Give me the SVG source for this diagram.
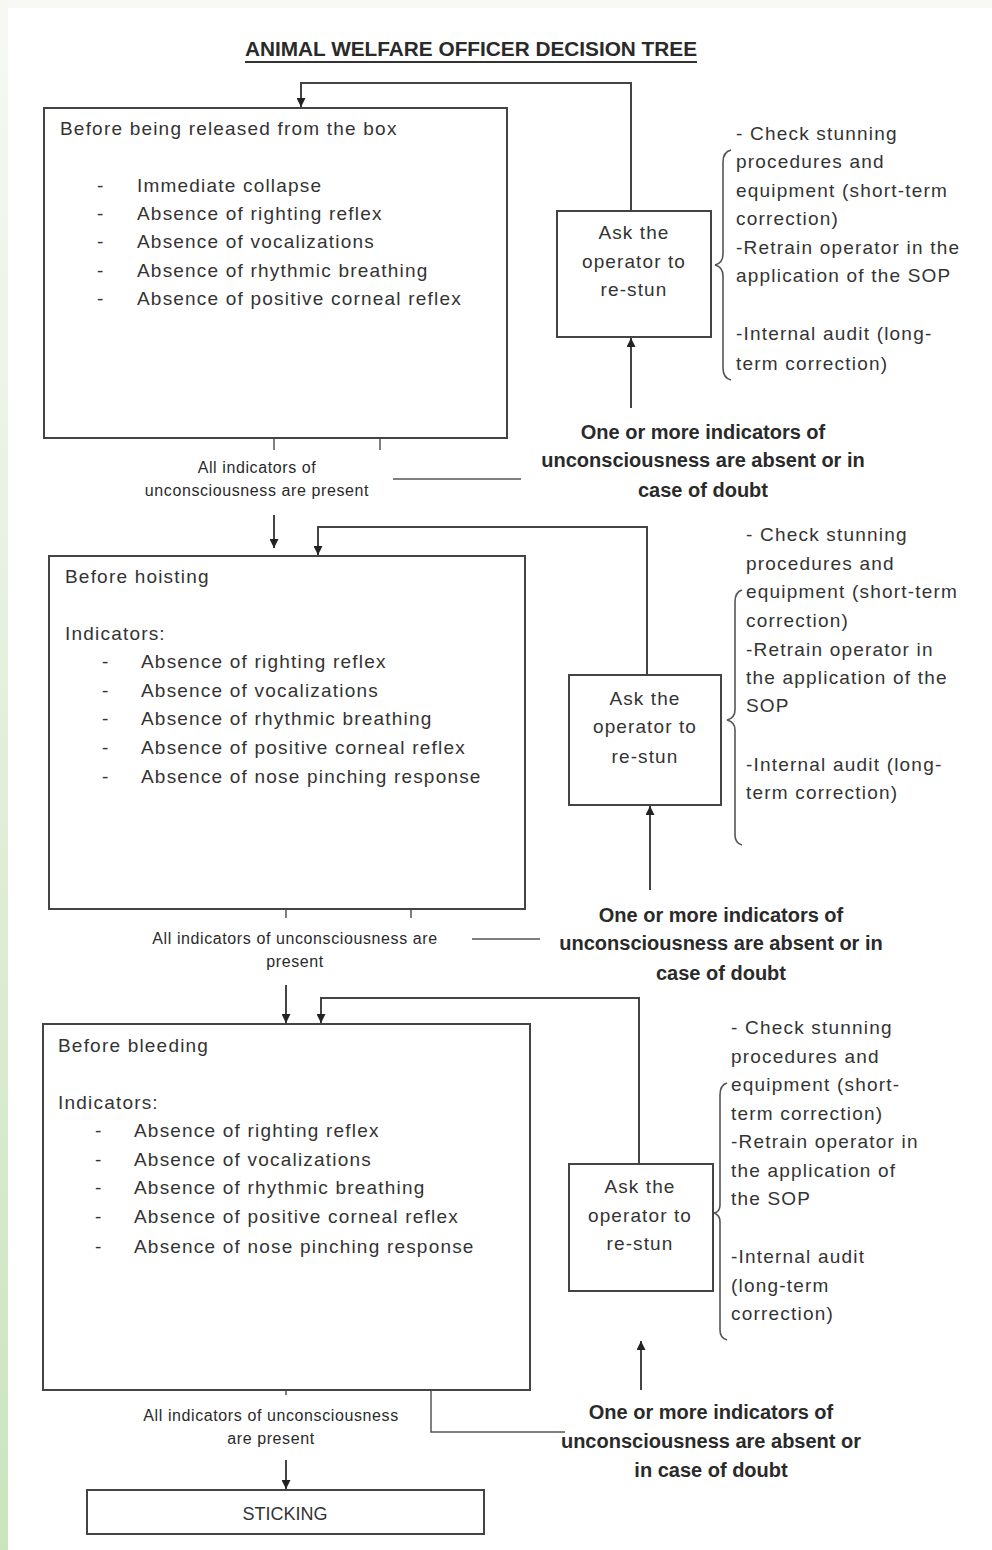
<svg xmlns="http://www.w3.org/2000/svg" width="992" height="1550" viewBox="0 0 992 1550">
<defs>
<linearGradient id="strip" x1="0" y1="0" x2="0" y2="1">
<stop offset="0" stop-color="#f7f8f4"/>
<stop offset="0.4" stop-color="#e6f0e0"/>
<stop offset="1" stop-color="#cbe4bd"/>
</linearGradient>
<marker id="ah" viewBox="0 0 10 10" refX="10" refY="5" markerWidth="9" markerHeight="9" markerUnits="userSpaceOnUse" orient="auto">
<path d="M0,0 L10,5 L0,10 z" fill="#222"/>
</marker>
<style>
.box{fill:#fff;stroke:#444;stroke-width:2}
.ln{fill:none;stroke:#444;stroke-width:2}
.thin{fill:none;stroke:#555;stroke-width:1.5}
.br{fill:none;stroke:#555;stroke-width:1.6}
text{font-family:"Liberation Sans",Arial,sans-serif;fill:#333}
.t{font-size:19px;letter-spacing:1.2px}
.c{font-size:19px;letter-spacing:1.1px;text-anchor:middle}
.b{font-size:20px;font-weight:bold;text-anchor:middle;fill:#2a2a2a}
.s{font-size:16px;letter-spacing:0.6px;text-anchor:middle;fill:#2a2a2a}
.k{font-size:18px;text-anchor:middle}
.title{font-size:20px;font-weight:bold;text-anchor:middle;fill:#2a2a2a}
</style>
</defs>
<rect x="0" y="0" width="992" height="1550" fill="#fff"/>
<rect x="0" y="0" width="992" height="8" fill="#f8f8f5"/>
<rect x="0" y="0" width="8" height="1550" fill="url(#strip)"/>

<g id="title">
<text class="title" x="471" y="56" textLength="452" lengthAdjust="spacingAndGlyphs">ANIMAL WELFARE OFFICER DECISION TREE</text>
<line x1="245" y1="62" x2="697" y2="62" stroke="#333" stroke-width="2"/>
</g>

<g id="connectors">
<polyline class="ln" points="631,211 631,83 301,83 301,107" marker-end="url(#ah)"/>
<line class="ln" x1="631" y1="408" x2="631" y2="338" marker-end="url(#ah)"/>
<line class="thin" x1="274" y1="438" x2="274" y2="450"/>
<line class="thin" x1="380" y1="426" x2="380" y2="450"/>
<line class="thin" x1="393" y1="479" x2="521" y2="479"/>
<line class="ln" x1="274" y1="515" x2="274" y2="548" marker-end="url(#ah)"/>
<polyline class="ln" points="647,675 647,527 318,527 318,555" marker-end="url(#ah)"/>
<line class="ln" x1="650" y1="890" x2="650" y2="806" marker-end="url(#ah)"/>
<line class="thin" x1="286" y1="909" x2="286" y2="918"/>
<line class="thin" x1="411" y1="909" x2="411" y2="918"/>
<line class="thin" x1="472" y1="939" x2="540" y2="939"/>
<line class="ln" x1="286" y1="985" x2="286" y2="1023" marker-end="url(#ah)"/>
<polyline class="ln" points="639,1164 639,998 321,998 321,1023" marker-end="url(#ah)"/>
<line class="ln" x1="641" y1="1390" x2="641" y2="1341" marker-end="url(#ah)"/>
<line class="thin" x1="286" y1="1390" x2="286" y2="1395"/>
<polyline class="thin" points="431,1390 431,1432 565,1432"/>
<line class="ln" x1="286" y1="1460" x2="286" y2="1489" marker-end="url(#ah)"/>
</g>

<g id="box1">
<rect class="box" x="44" y="108" width="463" height="330"/>
<text class="t" x="60" y="135">Before being released from the box</text>
<text class="t" x="97" y="192">-</text><text class="t" x="137" y="192">Immediate collapse</text>
<text class="t" x="97" y="220">-</text><text class="t" x="137" y="220">Absence of righting reflex</text>
<text class="t" x="97" y="248">-</text><text class="t" x="137" y="248">Absence of vocalizations</text>
<text class="t" x="97" y="277">-</text><text class="t" x="137" y="277">Absence of rhythmic breathing</text>
<text class="t" x="97" y="305">-</text><text class="t" x="137" y="305">Absence of positive corneal reflex</text>
</g>

<g id="ask1">
<rect class="box" x="557" y="211" width="154" height="126"/>
<text class="c" x="634" y="239">Ask the</text>
<text class="c" x="634" y="268">operator to</text>
<text class="c" x="634" y="296">re-stun</text>
</g>

<g id="actions1">
<path class="br" d="M731,150 Q723,152 723,162 L723,254 Q723,263 715,265 Q723,267 723,276 L723,368 Q723,378 731,380"/>
<text class="t" x="736" y="140">- Check stunning</text>
<text class="t" x="736" y="168">procedures and</text>
<text class="t" x="736" y="197">equipment (short-term</text>
<text class="t" x="736" y="225">correction)</text>
<text class="t" x="736" y="254">-Retrain operator in the</text>
<text class="t" x="736" y="282">application of the SOP</text>
<text class="t" x="736" y="340">-Internal audit (long-</text>
<text class="t" x="736" y="370">term correction)</text>
</g>

<g id="cond1">
<text class="b" x="703" y="439">One or more indicators of</text>
<text class="b" x="703" y="467">unconsciousness are absent or in</text>
<text class="b" x="703" y="497">case of doubt</text>
</g>

<g id="yes1">
<text class="s" x="257" y="473">All indicators of</text>
<text class="s" x="257" y="496">unconsciousness are present</text>
</g>

<g id="box2">
<rect class="box" x="49" y="556" width="476" height="353"/>
<text class="t" x="65" y="583">Before hoisting</text>
<text class="t" x="65" y="640">Indicators:</text>
<text class="t" x="102" y="668">-</text><text class="t" x="141" y="668">Absence of righting reflex</text>
<text class="t" x="102" y="697">-</text><text class="t" x="141" y="697">Absence of vocalizations</text>
<text class="t" x="102" y="725">-</text><text class="t" x="141" y="725">Absence of rhythmic breathing</text>
<text class="t" x="102" y="754">-</text><text class="t" x="141" y="754">Absence of positive corneal reflex</text>
<text class="t" x="102" y="783">-</text><text class="t" x="141" y="783">Absence of nose pinching response</text>
</g>

<g id="ask2">
<rect class="box" x="569" y="675" width="152" height="130"/>
<text class="c" x="645" y="705">Ask the</text>
<text class="c" x="645" y="733">operator to</text>
<text class="c" x="645" y="763">re-stun</text>
</g>

<g id="actions2">
<path class="br" d="M742,590 Q735,592 735,602 L735,710 Q735,718 727,720 Q735,722 735,730 L735,835 Q735,843 742,845"/>
<text class="t" x="746" y="541">- Check stunning</text>
<text class="t" x="746" y="570">procedures and</text>
<text class="t" x="746" y="598">equipment (short-term</text>
<text class="t" x="746" y="627">correction)</text>
<text class="t" x="746" y="656">-Retrain operator in</text>
<text class="t" x="746" y="684">the application of the</text>
<text class="t" x="746" y="712">SOP</text>
<text class="t" x="746" y="771">-Internal audit (long-</text>
<text class="t" x="746" y="799">term correction)</text>
</g>

<g id="cond2">
<text class="b" x="721" y="922">One or more indicators of</text>
<text class="b" x="721" y="950">unconsciousness are absent or in</text>
<text class="b" x="721" y="980">case of doubt</text>
</g>

<g id="yes2">
<text class="s" x="295" y="944">All indicators of unconsciousness are</text>
<text class="s" x="295" y="967">present</text>
</g>

<g id="box3">
<rect class="box" x="43" y="1024" width="487" height="366"/>
<text class="t" x="58" y="1052">Before bleeding</text>
<text class="t" x="58" y="1109">Indicators:</text>
<text class="t" x="95" y="1137">-</text><text class="t" x="134" y="1137">Absence of righting reflex</text>
<text class="t" x="95" y="1166">-</text><text class="t" x="134" y="1166">Absence of vocalizations</text>
<text class="t" x="95" y="1194">-</text><text class="t" x="134" y="1194">Absence of rhythmic breathing</text>
<text class="t" x="95" y="1223">-</text><text class="t" x="134" y="1223">Absence of positive corneal reflex</text>
<text class="t" x="95" y="1253">-</text><text class="t" x="134" y="1253">Absence of nose pinching response</text>
</g>

<g id="ask3">
<rect class="box" x="569" y="1164" width="144" height="127"/>
<text class="c" x="640" y="1193">Ask the</text>
<text class="c" x="640" y="1222">operator to</text>
<text class="c" x="640" y="1250">re-stun</text>
</g>

<g id="actions3">
<path class="br" d="M727,1083 Q720,1085 720,1095 L720,1205 Q720,1212 714,1213 Q720,1215 720,1222 L720,1330 Q720,1338 727,1340"/>
<text class="t" x="731" y="1034">- Check stunning</text>
<text class="t" x="731" y="1063">procedures and</text>
<text class="t" x="731" y="1091">equipment (short-</text>
<text class="t" x="731" y="1120">term correction)</text>
<text class="t" x="731" y="1148">-Retrain operator in</text>
<text class="t" x="731" y="1177">the application of</text>
<text class="t" x="731" y="1205">the SOP</text>
<text class="t" x="731" y="1263">-Internal audit</text>
<text class="t" x="731" y="1292">(long-term</text>
<text class="t" x="731" y="1320">correction)</text>
</g>

<g id="cond3">
<text class="b" x="711" y="1419">One or more indicators of</text>
<text class="b" x="711" y="1448">unconsciousness are absent or</text>
<text class="b" x="711" y="1477">in case of doubt</text>
</g>

<g id="yes3">
<text class="s" x="271" y="1421">All indicators of unconsciousness</text>
<text class="s" x="271" y="1444">are present</text>
</g>

<g id="sticking">
<rect class="box" x="87" y="1490" width="397" height="44"/>
<text class="k" x="285" y="1520">STICKING</text>
</g>
</svg>
